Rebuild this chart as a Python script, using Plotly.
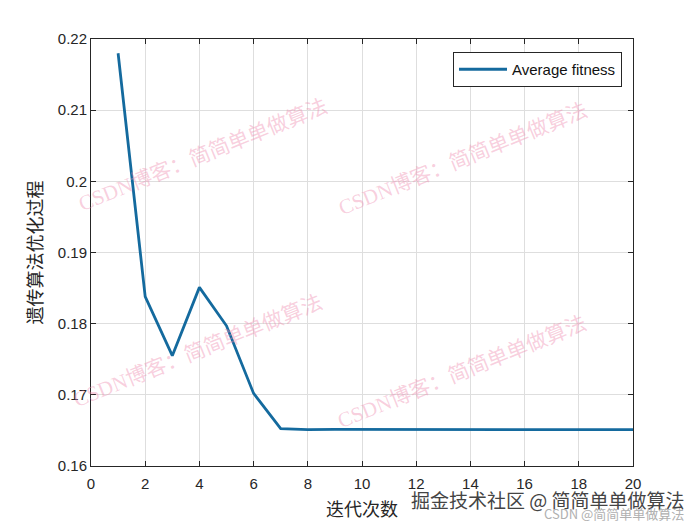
import plotly.graph_objects as go

iterations = list(range(1, 21))
avg_fitness = [0.2180, 0.1838, 0.1755, 0.1851, 0.1797, 0.1702, 0.16525,
               0.1651, 0.16515, 0.16515, 0.16515, 0.16515, 0.16515, 0.1651,
               0.16515, 0.1651, 0.1651, 0.16515, 0.1651, 0.1651]
x_ticks = [0, 2, 4, 6, 8, 10, 12, 14, 16, 18, 20]
y_ticks = [0.16, 0.17, 0.18, 0.19, 0.20, 0.21, 0.22]
y_tick_text = ["0.16", "0.17", "0.18", "0.19", "0.2", "0.21", "0.22"]

# page body has an 8px margin; plot area targets x 91..633, y 39..466 in the window
OFF = 8
L, R, T, B = 91, 633, 39, 466
W, H = 700 - OFF, 525 - OFF

fig = go.Figure()
fig.add_trace(go.Scatter(
    x=iterations, y=avg_fitness, mode="lines", name="Average fitness",
    line=dict(color="#146a9e", width=2.8),
))

axis_common = dict(
    showline=True, linecolor="#262626", linewidth=1, mirror="allticks",
    ticks="inside", ticklen=5, tickcolor="#262626",
    showgrid=True, gridcolor="#dedede", gridwidth=1, zeroline=False,
    tickfont=dict(family="Liberation Sans, Arial", size=15, color="#262626"),
)

fig.update_layout(
    width=W, height=H,
    margin=dict(l=L - OFF, r=W - (R - OFF), t=T - OFF, b=H - (B - OFF), autoexpand=False),
    paper_bgcolor="white", plot_bgcolor="white",
    showlegend=True,
    legend=dict(
        x=(453 - L) / (R - L), y=(B - 52) / (B - T), xanchor="left", yanchor="top",
        bordercolor="#262626", borderwidth=1, bgcolor="white",
        itemwidth=48,
        font=dict(family="Liberation Sans, Arial", size=15, color="#111111"),
    ),
    xaxis=dict(range=[0, 20], tickvals=x_ticks, ticklabelstandoff=4, **axis_common,
               title=dict(text="迭代次数", standoff=12,
                          font=dict(family="Noto Sans CJK SC", size=18, color="#262626"))),
    yaxis=dict(range=[0.16, 0.22], tickvals=y_ticks, ticktext=y_tick_text, **axis_common,
               title=dict(text="遗传算法优化过程", standoff=10,
                          font=dict(family="Noto Sans CJK SC", size=18, color="#262626"))),
)


def px(x):
    return (x - L) / (R - L)


def py(y):
    return (B - y) / (B - T)


wm = "CSDN博客：简简单单做算法"
for (cx, cy) in [(203, 155), (463, 159), (198, 351), (462, 372)]:
    fig.add_annotation(
        text=wm, xref="paper", yref="paper",
        x=px(cx), y=py(cy), xanchor="center", yanchor="middle",
        showarrow=False, textangle=-22,
        font=dict(family="Liberation Serif, Noto Sans CJK SC", size=21,
                  color="rgba(238,140,175,0.42)"),
    )

fig.add_annotation(
    text="掘金技术社区 @ 简简单单做算法", xref="paper", yref="paper",
    x=px(548), y=py(499), xanchor="center", yanchor="middle", showarrow=False,
    font=dict(family="Noto Sans CJK SC", size=19, color="#444444"),
)
fig.add_annotation(
    text="CSDN @简简单单做算法", xref="paper", yref="paper",
    x=px(614), y=py(514), xanchor="center", yanchor="middle", showarrow=False,
    font=dict(family="Noto Sans CJK SC", size=13, color="#b0b0b0"),
)

fig.write_html("out.html")
